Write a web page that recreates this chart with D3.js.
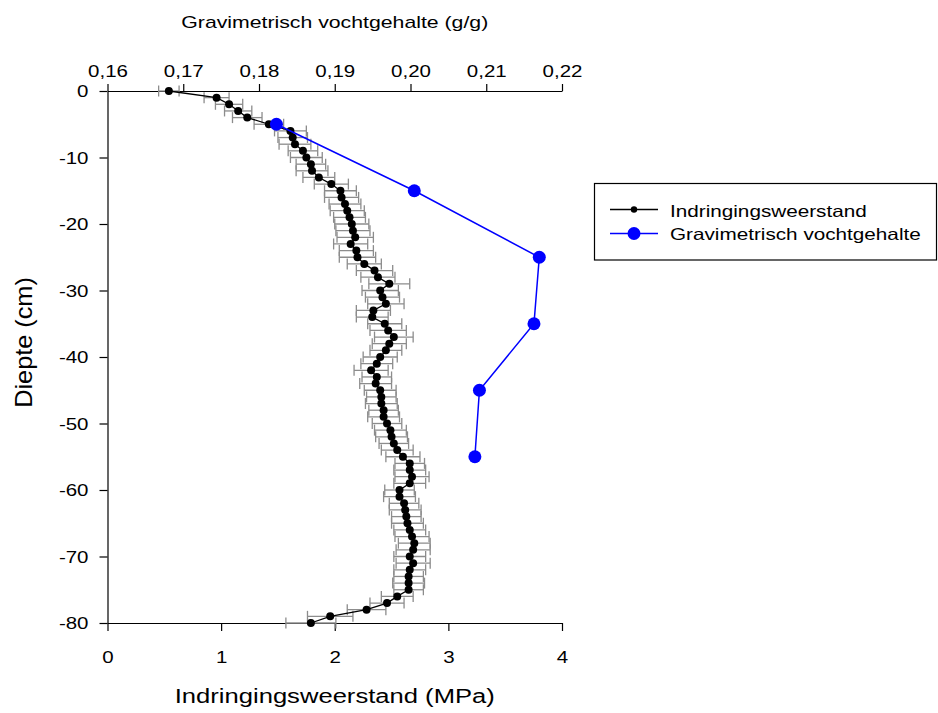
<!DOCTYPE html>
<html>
<head>
<meta charset="utf-8">
<script src="https://cdn.jsdelivr.net/npm/d3@7/dist/d3.min.js"></script>
<style>
  html, body { margin: 0; padding: 0; background: #fff; }
  svg { display: block; }
  text { font-family: "Liberation Sans", Arial, sans-serif; fill: #000; }
</style>
</head>
<body>
<svg id="chart" width="938" height="713"></svg>
<script>
// ---- Data ----
const depth = [0,-1,-2,-3,-4,-5,-6,-7,-8,-9,-10,-11,-12,-13,-14,-15,-16,-17,-18,-19,-20,
  -21,-22,-23,-24,-25,-26,-27,-28,-29,-30,-31,-32,-33,-34,-35,-36,-37,-38,-39,-40,
  -41,-42,-43,-44,-45,-46,-47,-48,-49,-50,-51,-52,-53,-54,-55,-56,-57,-58,-59,-60,
  -61,-62,-63,-64,-65,-66,-67,-68,-69,-70,-71,-72,-73,-74,-75,-76,-77,-78,-79,-80];
const resistance = [0.54,0.96,1.07,1.15,1.23,1.42,1.61,1.63,1.65,1.72,1.75,1.79,1.80,1.86,1.97,2.05,2.06,2.09,2.11,2.13,2.15,
  2.16,2.18,2.14,2.19,2.20,2.26,2.35,2.38,2.48,2.40,2.42,2.45,2.34,2.33,2.44,2.47,2.52,2.48,2.45,2.40,
  2.37,2.32,2.37,2.36,2.40,2.41,2.41,2.43,2.43,2.46,2.49,2.50,2.52,2.55,2.60,2.66,2.66,2.68,2.66,2.57,
  2.57,2.61,2.62,2.63,2.64,2.66,2.68,2.70,2.69,2.66,2.69,2.66,2.65,2.65,2.65,2.55,2.46,2.28,1.96,1.79];
const resistanceErr = [0.09,0.11,0.12,0.12,0.13,0.13,0.14,0.13,0.14,0.13,0.14,0.13,0.14,0.14,0.15,0.14,0.15,0.14,0.15,0.14,0.15,
  0.15,0.16,0.15,0.15,0.16,0.15,0.16,0.15,0.18,0.16,0.15,0.16,0.15,0.14,0.15,0.16,0.17,0.15,0.14,0.15,
  0.14,0.15,0.13,0.14,0.14,0.13,0.14,0.13,0.14,0.13,0.14,0.14,0.13,0.14,0.15,0.13,0.14,0.15,0.14,0.13,
  0.14,0.13,0.14,0.13,0.14,0.14,0.15,0.14,0.15,0.14,0.15,0.14,0.13,0.14,0.13,0.14,0.15,0.17,0.20,0.22];

const moistureDepth = [-5,-15,-25,-35,-45,-55];
const moisture = [0.1823,0.2005,0.2170,0.2163,0.2091,0.2085];

const xTicks = [0,1,2,3,4];
const xTickLabels = ["0","1","2","3","4"];
const x2Ticks = [0.16,0.17,0.18,0.19,0.20,0.21,0.22];
const x2TickLabels = ["0,16","0,17","0,18","0,19","0,20","0,21","0,22"];
const yTicks = [0,-10,-20,-30,-40,-50,-60,-70,-80];
const yTickLabels = ["0","-10","-20","-30","-40","-50","-60","-70","-80"];

const seriesNames = ["Indringingsweerstand","Gravimetrisch vochtgehalte"];
const xTitle = "Indringingsweerstand (MPa)";
const x2Title = "Gravimetrisch vochtgehalte (g/g)";
const yTitle = "Diepte (cm)";

// ---- Layout ----
const L = 107.5, R = 562, T = 91, B = 623;
const SX = 1.28; // horizontal text stretch seen in the reference

const svg = d3.select("#chart");
const x = d3.scaleLinear().domain([0,4]).range([L,R]);
const x2 = d3.scaleLinear().domain([0.16,0.22]).range([L,R]);
const y = d3.scaleLinear().domain([-80,0]).range([B,T]);

function styleAxis(g, fs) {
  g.attr("font-family", null).attr("font-size", null);
  g.selectAll("path.domain").attr("stroke", "#000").attr("stroke-width", 1.2);
  g.selectAll(".tick line").attr("stroke", "#000").attr("stroke-width", 1.2);
  g.selectAll(".tick text").style("font-size", fs + "px").attr("fill", "#000");
}

// bottom axis
const gx = svg.append("g").attr("transform", `translate(0,${B})`)
  .call(d3.axisBottom(x).tickValues(xTicks).tickFormat((d,i)=>xTickLabels[i]).tickSize(8).tickSizeOuter(0).tickPadding(6));
styleAxis(gx, 16);
gx.selectAll(".tick text").attr("dy", null).attr("y", 40).attr("transform", `scale(${SX},1)`);

// top axis
const gx2 = svg.append("g").attr("transform", `translate(0,${T})`)
  .call(d3.axisTop(x2).tickValues(x2Ticks).tickFormat((d,i)=>x2TickLabels[i]).tickSize(7).tickSizeOuter(0).tickPadding(6));
styleAxis(gx2, 16);
gx2.selectAll(".tick text").attr("dy", null).attr("y", -14).attr("transform", `scale(${SX},1)`);

// left axis
const gy = svg.append("g").attr("transform", `translate(${L},0)`)
  .call(d3.axisLeft(y).tickValues(yTicks).tickFormat((d,i)=>yTickLabels[i]).tickSize(8).tickSizeOuter(0).tickPadding(10));
styleAxis(gy, 16);
gy.selectAll(".tick text").attr("x", -19 / SX).attr("dy", "0.35em").attr("transform", `scale(${SX},1)`);

// titles
svg.append("text").attr("transform", `translate(${(L+R)/2},703) scale(${SX},1)`)
  .attr("text-anchor","middle").style("font-size","20px").text(xTitle);
svg.append("text").attr("transform", `translate(${(L+R)/2},28) scale(1.25,1)`)
  .attr("text-anchor","middle").style("font-size","17px").text(x2Title);
svg.append("text").attr("transform", `translate(31.5,342.5) rotate(-90) scale(1.1,1)`)
  .attr("text-anchor","middle").style("font-size","23px").text(yTitle);

// ---- Marks ----
const pts = depth.map((d,i)=>({d, v: resistance[i], e: resistanceErr[i]}));

// error bars
const eb = svg.append("g").attr("stroke", "#8c8c8c").attr("stroke-width", 1.3).attr("fill","none");
pts.forEach(p => {
  const yy = y(p.d), x0 = x(p.v - p.e), x1 = x(p.v + p.e);
  eb.append("line").attr("x1", x0).attr("x2", x1).attr("y1", yy).attr("y2", yy);
  eb.append("line").attr("x1", x0).attr("x2", x0).attr("y1", yy-5.5).attr("y2", yy+5.5);
  eb.append("line").attr("x1", x1).attr("x2", x1).attr("y1", yy-5.5).attr("y2", yy+5.5);
});

// black line + markers
svg.append("path").datum(pts)
  .attr("d", d3.line().x(p=>x(p.v)).y(p=>y(p.d)))
  .attr("fill","none").attr("stroke","#000").attr("stroke-width",1.3);
svg.append("g").selectAll("circle").data(pts).join("circle")
  .attr("cx", p=>x(p.v)).attr("cy", p=>y(p.d)).attr("r", 4).attr("fill","#000");

// blue series
const mpts = moistureDepth.map((d,i)=>({d, v: moisture[i]}));
svg.append("path").datum(mpts)
  .attr("d", d3.line().x(p=>x2(p.v)).y(p=>y(p.d)))
  .attr("fill","none").attr("stroke","#0000ff").attr("stroke-width",1.5);
svg.append("g").selectAll("circle").data(mpts).join("circle")
  .attr("cx", p=>x2(p.v)).attr("cy", p=>y(p.d)).attr("r", 6.5).attr("fill","#0000ff");

// ---- Legend ----
const lg = svg.append("g");
lg.append("rect").attr("x", 594.5).attr("y", 183.5).attr("width", 342).attr("height", 76.5)
  .attr("fill","#fff").attr("stroke","#000").attr("stroke-width",1.2);
const legendRows = [
  {name: seriesNames[0], color:"#000", r:3.2, ly:209.5, ty:216.7},
  {name: seriesNames[1], color:"#0000ff", r:6.5, ly:233.5, ty:240.3}
];
legendRows.forEach(row => {
  lg.append("line").attr("x1",610).attr("x2",658).attr("y1",row.ly).attr("y2",row.ly)
    .attr("stroke",row.color).attr("stroke-width",1.4);
  lg.append("circle").attr("cx",634).attr("cy",row.ly).attr("r",row.r).attr("fill",row.color);
  lg.append("text").attr("transform",`translate(670,${row.ty}) scale(1.27,1)`)
    .style("font-size","16.3px").text(row.name);
});
</script>
</body>
</html>
